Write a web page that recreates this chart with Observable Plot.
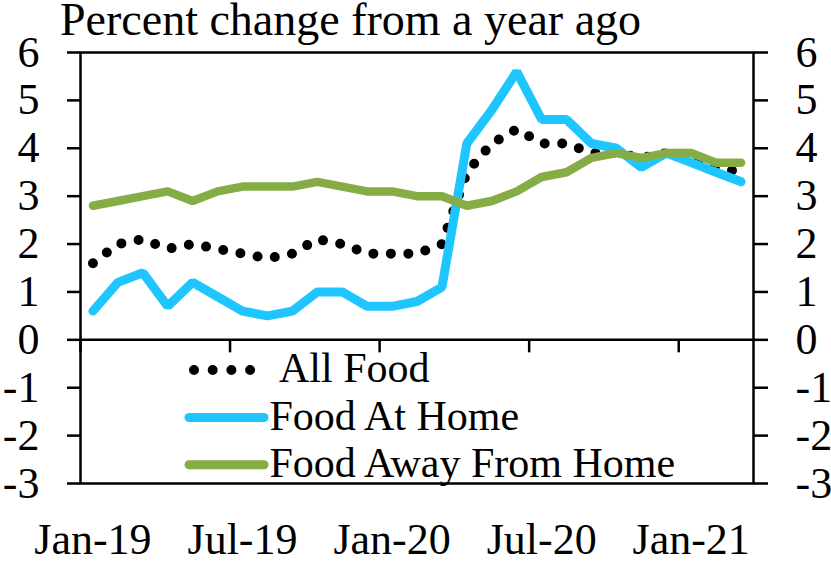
<!DOCTYPE html>
<html>
<head>
<meta charset="utf-8">
<script src="https://cdn.jsdelivr.net/npm/d3@7"></script>
<script src="https://cdn.jsdelivr.net/npm/@observablehq/plot@0.6"></script>
<style>
  html, body { margin: 0; padding: 0; background: #fff; }
  #wrap { position: relative; width: 831px; height: 564px; }
  #overlay { position: absolute; left: 0; top: 0; pointer-events: none; }
  text { font-family: "Liberation Serif", serif; }
</style>
</head>
<body>
<div id="wrap"></div>
<script>
const months = ["Jan-19","Feb-19","Mar-19","Apr-19","May-19","Jun-19","Jul-19","Aug-19","Sep-19","Oct-19","Nov-19","Dec-19",
                "Jan-20","Feb-20","Mar-20","Apr-20","May-20","Jun-20","Jul-20","Aug-20","Sep-20","Oct-20","Nov-20","Dec-20",
                "Jan-21","Feb-21","Mar-21"];
const allFood  = [1.6, 2.0, 2.1, 1.9, 2.0, 1.9, 1.8, 1.7, 1.8, 2.1, 2.0, 1.8, 1.8, 1.8, 2.0, 3.5, 4.1, 4.4, 4.1, 4.1, 3.9, 3.9, 3.8, 3.9, 3.8, 3.6, 3.5];
const atHome   = [0.6, 1.2, 1.4, 0.7, 1.2, 0.9, 0.6, 0.5, 0.6, 1.0, 1.0, 0.7, 0.7, 0.8, 1.1, 4.1, 4.8, 5.6, 4.6, 4.6, 4.1, 4.0, 3.6, 3.9, 3.7, 3.5, 3.3];
const awayHome = [2.8, 2.9, 3.0, 3.1, 2.9, 3.1, 3.2, 3.2, 3.2, 3.3, 3.2, 3.1, 3.1, 3.0, 3.0, 2.8, 2.9, 3.1, 3.4, 3.5, 3.8, 3.9, 3.8, 3.9, 3.9, 3.7, 3.7];
const yTicks = [-3, -2, -1, 0, 1, 2, 3, 4, 5, 6];
const seriesNames = ["All Food", "Food At Home", "Food Away From Home"];
const title = "Percent change from a year ago";

const BLUE = "#1EC5FF", GREEN = "#86AC45";
const idx = months.map((m, i) => i);
const labelIdx = idx.filter(i => i % 6 === 0);
const boundaries = labelIdx.map(i => i - 0.5);

const tableOf = vals => vals.map((v, i) => ({i, v}));

const chart = Plot.plot({
  width: 831, height: 564,
  marginTop: 52, marginBottom: 81, marginLeft: 80, marginRight: 78,
  style: {fontFamily: "Liberation Serif, serif", color: "#000", background: "#fff"},
  x: {domain: [-0.5, months.length - 0.5]},
  y: {domain: [-3, 6]},
  marks: [
    Plot.ruleY([0], {stroke: "#000", strokeWidth: 2.5}),
    Plot.ruleX(boundaries, {x: d => d, y1: 0, y2: 0, insetBottom: -13, stroke: "#000", strokeWidth: 2.5}),
    Plot.line(tableOf(allFood), {x: "i", y: "v", stroke: "#000", strokeWidth: 10, strokeDasharray: "0 17.5", strokeLinecap: "round"}),
    Plot.line(tableOf(atHome), {x: "i", y: "v", stroke: BLUE, strokeWidth: 9, strokeLinecap: "round", strokeLinejoin: "miter"}),
    Plot.line(tableOf(awayHome), {x: "i", y: "v", stroke: GREEN, strokeWidth: 8.5, strokeLinecap: "round", strokeLinejoin: "miter"}),
    Plot.frame({stroke: "#000", strokeWidth: 2.5}),
    Plot.axisY(yTicks, {anchor: "left", tickSize: 13, tickPadding: 28, strokeWidth: 2.5, fontSize: 44, tickFormat: d => String(d), label: null}),
    Plot.axisY(yTicks, {anchor: "right", tickSize: 14, tickPadding: 28, strokeWidth: 2.5, fontSize: 44, tickFormat: d => String(d), label: null}),
    Plot.axisX(labelIdx, {anchor: "bottom", tickSize: 0, tickPadding: 39, fontSize: 44, tickFormat: i => months[i], label: null})
  ]
});

const wrap = document.getElementById("wrap");
wrap.appendChild(chart);

// Title and legend overlay
const ns = "http://www.w3.org/2000/svg";
const ov = document.createElementNS(ns, "svg");
ov.setAttribute("id", "overlay");
ov.setAttribute("width", 831);
ov.setAttribute("height", 564);
wrap.appendChild(ov);
function el(tag, attrs, txt) {
  const e = document.createElementNS(ns, tag);
  for (const k in attrs) e.setAttribute(k, attrs[k]);
  if (txt != null) e.textContent = txt;
  ov.appendChild(e);
  return e;
}
el("text", {x: 60, y: 35, "font-size": 46, fill: "#000"}, title);

const legend = [
  {name: seriesNames[0], stroke: "#000", dash: "0 18.7", width: 10, y: 370, tx: 279},
  {name: seriesNames[1], stroke: BLUE, dash: null, width: 9, y: 417.5, tx: 269.5},
  {name: seriesNames[2], stroke: GREEN, dash: null, width: 9, y: 464.7, tx: 269.5}
];
legend.forEach(s => {
  const a = {x1: s.dash ? 194 : 189, x2: s.dash ? 251 : 264, y1: s.y, y2: s.y, stroke: s.stroke, "stroke-width": s.width, "stroke-linecap": "round"};
  if (s.dash) a["stroke-dasharray"] = s.dash;
  el("line", a);
  el("text", {x: s.tx, y: s.y + 12, "font-size": 42, fill: "#000"}, s.name);
});
</script>
</body>
</html>
